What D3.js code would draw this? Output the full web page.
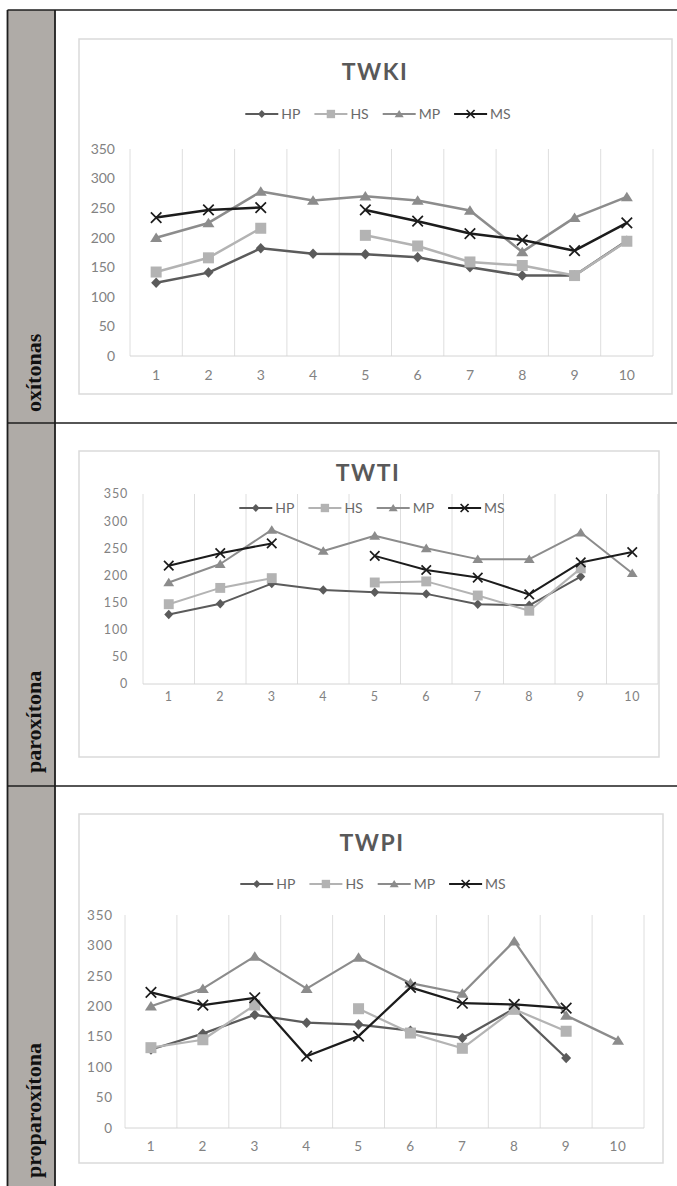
<!DOCTYPE html>
<html><head><meta charset="utf-8">
<script src="https://cdn.jsdelivr.net/npm/d3@7"></script>
<style>html,body{margin:0;padding:0;background:#fff}</style>
</head><body><svg id="c" width="677" height="1186"></svg>
<script>
// Categories and tick labels
const categories = [1, 2, 3, 4, 5, 6, 7, 8, 9, 10];
const seriesNames = ["HP", "HS", "MP", "MS"];
const yTicks = [0, 50, 100, 150, 200, 250, 300, 350];
const panelTitles = ["TWKI", "TWTI", "TWPI"];
const rowLabels = ["oxítonas", "paroxítona", "proparoxítona"];

// TWKI (oxítonas)
const twkiHP = [124, 141, 182, 173, 172, 167, 150, 136, 136, 195];
const twkiHS = [142, 166, 216, null, 204, 186, 159, 153, 136, 194];
const twkiMP = [200, 225, 278, 263, 270, 263, 246, 176, 234, 269];
const twkiMS = [234, 247, 251, null, 247, 228, 207, 196, 178, 225];

// TWTI (paroxítona)
const twtiHP = [128, 148, 185, 173, 169, 166, 147, 145, 198, null];
const twtiHS = [147, 177, 195, null, 187, 189, 163, 135, 213, null];
const twtiMP = [187, 221, 284, 245, 273, 250, 230, 230, 279, 204];
const twtiMS = [218, 241, 259, null, 236, 210, 196, 165, 224, 243];

// TWPI (proparoxítona)
const twpiHP = [129, 155, 186, 173, 170, 160, 148, 196, 115, null];
const twpiHS = [132, 145, 202, null, 196, 156, 131, 195, 159, null];
const twpiMP = [200, 229, 282, 229, 280, 238, 221, 307, 185, 144];
const twpiMS = [223, 202, 214, 118, 151, 231, 205, 203, 197, null];

const panelSeries = [
  [twkiHP, twkiHS, twkiMP, twkiMS],
  [twtiHP, twtiHS, twtiMP, twtiMS],
  [twpiHP, twpiHS, twpiMP, twpiMS]
];

// Series styling
const seriesStyle = {
  HP: { color: "#5b5b5b", marker: "diamond" },
  HS: { color: "#b3b3b3", marker: "square" },
  MP: { color: "#8c8c8c", marker: "triangle" },
  MS: { color: "#1c1c1c", marker: "cross" }
};

// Layout of the three table rows
const layout = [
  { rowTop: 10, rowBottom: 423, box: [79, 39, 672, 394], plot: [130, 653, 149, 356],
    titleY: 72, titleX: 375, legendY: 114, legendX: 378, xLabelY: 375, yLabelX: 115,
    labelBottom: 412, lineW: 2.5, mk: 5, tickSize: 14, tickSpacing: 0 },
  { rowTop: 423, rowBottom: 786, box: [79, 451, 659, 757], plot: [143, 658, 494, 684],
    titleY: 473, titleX: 368, legendY: 508, legendX: 372, xLabelY: 697, yLabelX: 128,
    labelBottom: 773, lineW: 2, mk: 4.5, tickSize: 12.5, tickSpacing: 0.8 },
  { rowTop: 786, rowBottom: 1186, box: [79, 814, 663, 1163], plot: [125, 644, 915, 1128],
    titleY: 843, titleX: 372, legendY: 884, legendX: 373, xLabelY: 1146, yLabelX: 113,
    labelBottom: 1178, lineW: 2.25, mk: 5, tickSize: 13.5, tickSpacing: 0.8 }
];

const svg = d3.select("#c");
const sansFont = "Lato, 'Open Sans', sans-serif";

function drawMarker(g, type, color, r) {
  if (type === "diamond") {
    g.append("path").attr("d", `M0,${-r * 1.05}L${r},0L0,${r * 1.05}L${-r},0Z`).attr("fill", color);
  } else if (type === "square") {
    const s = r * 1.1;
    g.append("rect").attr("x", -s).attr("y", -s).attr("width", 2 * s).attr("height", 2 * s).attr("fill", color);
  } else if (type === "triangle") {
    const w = r * 1.2, h = r * 1.9;
    g.append("path").attr("d", `M0,${-h * 0.55}L${w},${h * 0.45}L${-w},${h * 0.45}Z`).attr("fill", color);
  } else {
    const c = r * 1.05;
    g.append("path").attr("d", `M${-c},${-c}L${c},${c}M${-c},${c}L${c},${-c}`)
      .attr("stroke", color).attr("stroke-width", 1.7).attr("fill", "none");
  }
}

// Table frame with grey label column
const tableLeft = 7.5, colRight = 55, tableRight = 677;
svg.append("rect").attr("x", tableLeft).attr("y", 10).attr("width", colRight - tableLeft).attr("height", 1186 - 10)
  .attr("fill", "#afaba7");

layout.forEach((L, i) => {
  const data = panelSeries[i];
  const [bx0, by0, bx1, by1] = L.box;
  const [px0, px1, pyTop, pyBot] = L.plot;

  // Chart frame
  svg.append("rect").attr("x", bx0).attr("y", by0).attr("width", bx1 - bx0).attr("height", by1 - by0)
    .attr("fill", "#fff").attr("stroke", "#dadada").attr("stroke-width", 1.5);

  const x = d3.scaleBand().domain(categories).range([px0, px1]).padding(0);
  const y = d3.scaleLinear().domain([0, 350]).range([pyBot, pyTop]);

  const g = svg.append("g");

  // Vertical gridlines at category boundaries
  const bounds = categories.map(c => x(c)).concat([px1]);
  g.selectAll("line.grid").data(bounds).join("line")
    .attr("x1", d => d).attr("x2", d => d).attr("y1", y(350)).attr("y2", y(0))
    .attr("stroke", "#dedede").attr("stroke-width", 1);
  g.append("line").attr("x1", px0).attr("x2", px1).attr("y1", y(0)).attr("y2", y(0))
    .attr("stroke", "#d4d4d4").attr("stroke-width", 1);

  // Axis labels
  g.selectAll("text.yt").data(yTicks).join("text")
    .attr("x", L.yLabelX).attr("y", d => y(d)).attr("text-anchor", "end").attr("dy", "0.35em")
    .attr("font-family", sansFont).attr("font-size", L.tickSize).attr("letter-spacing", L.tickSpacing)
    .attr("fill", "#828282").text(d => d);
  g.selectAll("text.xt").data(categories).join("text")
    .attr("x", d => x(d) + x.bandwidth() / 2).attr("y", L.xLabelY).attr("text-anchor", "middle").attr("dy", "0.35em")
    .attr("font-family", sansFont).attr("font-size", L.tickSize).attr("letter-spacing", L.tickSpacing)
    .attr("fill", "#828282").text(d => d);

  // Series lines and markers
  seriesNames.forEach((name, si) => {
    const st = seriesStyle[name];
    const vals = data[si].map((v, k) => ({ c: categories[k], v }));
    const line = d3.line().defined(d => d.v != null)
      .x(d => x(d.c) + x.bandwidth() / 2).y(d => y(d.v));
    g.append("path").datum(vals).attr("d", line).attr("fill", "none")
      .attr("stroke", st.color).attr("stroke-width", L.lineW).attr("stroke-linejoin", "round");
    vals.filter(d => d.v != null).forEach(d => {
      const m = g.append("g").attr("transform", `translate(${x(d.c) + x.bandwidth() / 2},${y(d.v)})`);
      drawMarker(m, st.marker, st.color, L.mk);
    });
  });

  // Title
  svg.append("text").attr("x", L.titleX).attr("y", L.titleY).attr("dy", "0.35em").attr("text-anchor", "middle")
    .attr("font-family", sansFont).attr("font-weight", "bold").attr("font-size", 23).attr("letter-spacing", 1.5)
    .attr("fill", "#595959").text(panelTitles[i]);

  // Legend, centred on legendX
  const lg = svg.append("g");
  let cursor = 0;
  const lineLen = 33;
  seriesNames.forEach((name, si) => {
    const st = seriesStyle[name];
    const item = lg.append("g").attr("transform", `translate(${cursor},0)`);
    item.append("line").attr("x1", 0).attr("x2", lineLen).attr("y1", 0).attr("y2", 0)
      .attr("stroke", st.color).attr("stroke-width", 2.2);
    const m = item.append("g").attr("transform", `translate(${lineLen / 2},0)`);
    drawMarker(m, st.marker, st.color, 3.8);
    const t = item.append("text").attr("x", lineLen + 3).attr("y", 0).attr("dy", "0.35em")
      .attr("font-family", sansFont).attr("font-size", 14).attr("fill", "#6a6a6a").text(name);
    cursor += lineLen + 3 + t.node().getComputedTextLength() + 14;
  });
  const legendW = cursor - 14;
  lg.attr("transform", `translate(${L.legendX - legendW / 2},${L.legendY})`);

  // Row label in the grey column
  svg.append("text").attr("transform", `translate(41,${L.labelBottom}) rotate(-90)`)
    .attr("font-family", "'Liberation Serif', 'Times New Roman', serif").attr("font-weight", "bold")
    .attr("font-size", 22).attr("fill", "#111").text(rowLabels[i]);
});

// Table rules
const rule = "#1e1e1e";
svg.append("line").attr("x1", tableLeft).attr("x2", tableRight).attr("y1", 10).attr("y2", 10).attr("stroke", rule).attr("stroke-width", 1.5);
svg.append("line").attr("x1", tableLeft).attr("x2", tableLeft).attr("y1", 10).attr("y2", 1186).attr("stroke", rule).attr("stroke-width", 1.8);
svg.append("line").attr("x1", colRight).attr("x2", colRight).attr("y1", 10).attr("y2", 1186).attr("stroke", rule).attr("stroke-width", 1.8);
layout.slice(0, 2).forEach(L => {
  svg.append("line").attr("x1", tableLeft).attr("x2", tableRight).attr("y1", L.rowBottom).attr("y2", L.rowBottom)
    .attr("stroke", rule).attr("stroke-width", 1.5);
});
</script>
</body></html>
